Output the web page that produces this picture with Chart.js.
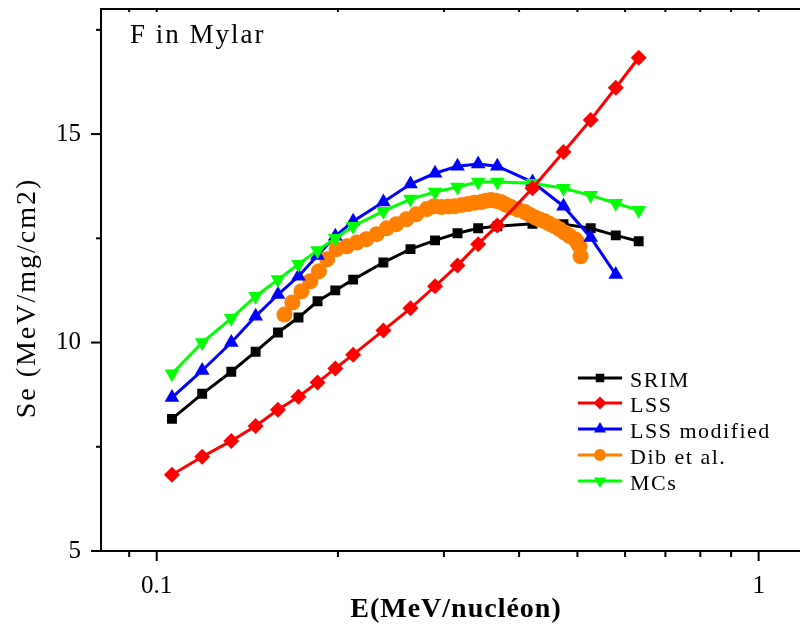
<!DOCTYPE html>
<html>
<head>
<meta charset="utf-8">
<script src="https://cdn.jsdelivr.net/npm/chart.js@4.4.1/dist/chart.umd.min.js"></script>
<style>
  html, body { margin: 0; padding: 0; background: #fff; }
  canvas { display: block; }
</style>
</head>
<body>
<canvas id="seChart" width="800" height="628"></canvas>
<script>
// energies in MeV/nucleon
const energy = [0.106, 0.119, 0.133, 0.146, 0.159, 0.172, 0.185, 0.198, 0.212, 0.238,
  0.264, 0.290, 0.316, 0.342, 0.368, 0.421, 0.474, 0.526, 0.579, 0.632];

const srim = [8.17, 8.77, 9.30, 9.78, 10.24, 10.60, 10.99, 11.25, 11.51, 11.92,
  12.24, 12.45, 12.62, 12.74, 12.79, 12.85, 12.84, 12.74, 12.57, 12.43];
const lss = [6.83, 7.26, 7.64, 8.00, 8.39, 8.70, 9.04, 9.38, 9.71, 10.29,
  10.82, 11.35, 11.85, 12.36, 12.81, 13.70, 14.57, 15.34, 16.11, 16.83];
const lssModified = [8.68, 9.33, 10.00, 10.63, 11.15, 11.59, 12.09, 12.55, 12.91, 13.37,
  13.80, 14.06, 14.23, 14.28, 14.23, 13.85, 13.27, 12.52, 11.63];
const mcs = [9.25, 10.00, 10.58, 11.11, 11.51, 11.88, 12.21, 12.50, 12.79, 13.15,
  13.44, 13.61, 13.73, 13.85, 13.85, 13.82, 13.70, 13.53, 13.34, 13.17];

const dibEnergy = [0.163, 0.168, 0.174, 0.180, 0.186, 0.192, 0.199, 0.207, 0.215, 0.223,
  0.232, 0.241, 0.250, 0.260, 0.270, 0.281, 0.289, 0.297, 0.305, 0.313, 0.321, 0.329,
  0.337, 0.346, 0.352, 0.359, 0.366, 0.373, 0.380, 0.388, 0.398, 0.409, 0.417, 0.425,
  0.433, 0.441, 0.449, 0.458, 0.467, 0.476, 0.485, 0.495, 0.500, 0.504, 0.506];
const dibSe = [10.67, 10.96, 11.23, 11.47, 11.71, 12.00, 12.24, 12.31, 12.40, 12.48,
  12.60, 12.74, 12.84, 12.96, 13.08, 13.20, 13.27, 13.25, 13.26, 13.27, 13.30, 13.32,
  13.35, 13.37, 13.40, 13.42, 13.40, 13.37, 13.31, 13.25, 13.19, 13.13, 13.06, 13.00,
  12.95, 12.91, 12.85, 12.79, 12.72, 12.64, 12.56, 12.48, 12.40, 12.31, 12.07];

const xTicks = [0.09, 0.1, 0.2, 0.3, 0.4, 0.5, 0.6, 0.7, 0.8, 0.9, 1];
const yTicks = [5, 7.5, 10, 12.5, 15, 17.5];
const xLabels = { 0.1: "0.1", 1: "1" };
const yLabels = { 5: "5", 10: "10", 15: "15" };

const COLORS = {
  srim: "#000000",
  lss: "#ff0000",
  lssMod: "#0000ff",
  dib: "#ff8000",
  mcs: "#00ff00"
};

const SERIF = "'Liberation Serif', 'Times New Roman', serif";

function pts(xs, ys) {
  return ys.map((v, i) => ({ x: xs[i], y: v }));
}

function series(label, xs, ys, color, style, radius, rotation, order) {
  return {
    label,
    data: pts(xs, ys),
    borderColor: color,
    backgroundColor: color,
    borderWidth: 3,
    pointStyle: style,
    pointRadius: radius,
    pointRotation: rotation,
    pointBorderWidth: 0,
    pointBackgroundColor: color,
    tension: 0,
    order
  };
}

const datasets = [
  series("SRIM", energy, srim, COLORS.srim, "rect", 7, 0, 5),
  series("LSS", energy, lss, COLORS.lss, "rectRot", 8, 0, 1),
  series("LSS modified", energy, lssModified, COLORS.lssMod, "triangle", 8.5, 0, 3),
  series("Dib et al.", dibEnergy, dibSe, COLORS.dib, "circle", 8, 0, 4),
  series("MCs", energy, mcs, COLORS.mcs, "triangle", 8.5, 180, 2)
];

function marker(ctx, style, rot, x, y, r) {
  ctx.beginPath();
  if (style === "rect") {
    const s = r * Math.SQRT1_2;
    ctx.rect(x - s, y - s, 2 * s, 2 * s);
  } else if (style === "rectRot") {
    ctx.moveTo(x, y - r); ctx.lineTo(x + r, y); ctx.lineTo(x, y + r); ctx.lineTo(x - r, y);
    ctx.closePath();
  } else if (style === "triangle") {
    const d = rot ? -1 : 1;
    ctx.moveTo(x, y - d * r);
    ctx.lineTo(x + r * 0.866, y + d * r * 0.5);
    ctx.lineTo(x - r * 0.866, y + d * r * 0.5);
    ctx.closePath();
  } else {
    ctx.arc(x, y, r, 0, Math.PI * 2);
  }
  ctx.fill();
}

const decor = {
  id: "decor",
  afterDraw(chart) {
    const { ctx, chartArea: a, scales: { x, y } } = chart;
    ctx.save();
    ctx.strokeStyle = "#000";
    ctx.lineWidth = 2;
    const seg = (x1, y1, x2, y2) => {
      ctx.beginPath(); ctx.moveTo(x1, y1); ctx.lineTo(x2, y2); ctx.stroke();
    };
    // frame runs on past the right edge of the picture
    seg(a.left - 1, a.top, chart.width, a.top);
    seg(a.right - 1, a.bottom, chart.width, a.bottom);
    // tick marks
    y.ticks.forEach(t => {
      const py = y.getPixelForValue(t.value);
      const len = yLabels[t.value] ? 10 : 5;
      seg(a.left - len, py, a.left, py);
    });
    x.ticks.forEach(t => {
      const px = x.getPixelForValue(t.value);
      const len = xLabels[t.value] ? 10 : 6;
      seg(px, a.bottom, px, a.bottom + len);
      seg(px, a.top, px, a.top + 3);
    });

    ctx.fillStyle = "#000";
    // panel label
    ctx.font = "27px " + SERIF;
    ctx.letterSpacing = "2px";
    ctx.textAlign = "left";
    ctx.textBaseline = "alphabetic";
    ctx.fillText("F in Mylar", 130, 43);

    // x title
    ctx.font = "bold 28px " + SERIF;
    ctx.letterSpacing = "1px";
    ctx.textAlign = "center";
    ctx.fillText("E(MeV/nucléon)", 456, 617);

    // y title
    ctx.save();
    ctx.translate(35, 298);
    ctx.rotate(-Math.PI / 2);
    ctx.font = "28px " + SERIF;
    ctx.letterSpacing = "2px";
    ctx.textAlign = "center";
    ctx.fillText("Se (MeV/mg/cm2)", 0, 0);
    ctx.restore();

    // legend
    ctx.font = "22px " + SERIF;
    ctx.letterSpacing = "1.5px";
    ctx.textAlign = "left";
    const rows = [378, 403, 429, 455, 481];
    const sizes = [6, 6.5, 7, 6, 7];
    datasets.forEach((ds, i) => {
      const cy = rows[i];
      ctx.strokeStyle = ds.borderColor;
      ctx.lineWidth = 3;
      seg(578, cy, 622, cy);
      ctx.fillStyle = ds.borderColor;
      marker(ctx, ds.pointStyle, ds.pointRotation, 600, cy, sizes[i]);
      ctx.fillStyle = "#000";
      ctx.fillText(ds.label, 630, cy + 9);
    });
    ctx.restore();
  }
};

new Chart(document.getElementById("seChart"), {
  type: "line",
  data: { datasets },
  options: {
    responsive: false,
    animation: false,
    layout: { padding: { top: 9, right: 0, left: 0, bottom: 0 } },
    plugins: {
      legend: { display: false },
      tooltip: { enabled: false }
    },
    scales: {
      x: {
        type: "logarithmic",
        min: 0.0808,
        max: 1.134,
        afterBuildTicks: s => { s.ticks = xTicks.map(v => ({ value: v })); },
        afterFit: s => { s.height = 77; s.paddingLeft = 0; s.paddingRight = 0; },
        grid: { display: true, drawOnChartArea: false, drawTicks: false },
        border: { display: true, color: "#000", width: 2 },
        ticks: {
          autoSkip: false,
          maxRotation: 0,
          padding: 20,
          color: "#000",
          font: { family: SERIF, size: 25 },
          callback: v => xLabels[v] || ""
        }
      },
      y: {
        type: "linear",
        min: 5,
        max: 18,
        afterBuildTicks: s => { s.ticks = yTicks.map(v => ({ value: v })); },
        afterFit: s => { s.width = 101; s.paddingTop = 0; s.paddingBottom = 0; },
        grid: { display: true, drawOnChartArea: false, drawTicks: false },
        border: { display: true, color: "#000", width: 2 },
        ticks: {
          autoSkip: false,
          padding: 20,
          color: "#000",
          font: { family: SERIF, size: 25 },
          callback: v => yLabels[v] || ""
        }
      }
    }
  },
  plugins: [decor]
});
</script>
</body>
</html>
